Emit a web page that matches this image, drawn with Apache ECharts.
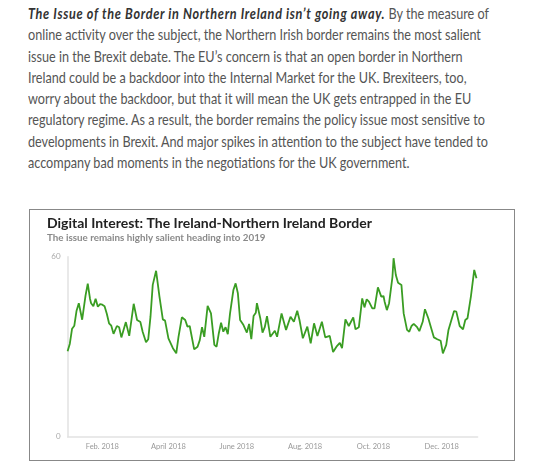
<!DOCTYPE html>
<html>
<head>
<meta charset="utf-8">
<script src="https://cdn.jsdelivr.net/npm/echarts@6/dist/echarts.min.js"></script>
<style>
  html, body { margin: 0; padding: 0; background: #fff; }
  body { width: 540px; height: 470px; position: relative; overflow: hidden; }
  #para {
    position: absolute; left: 28px; top: 3px; width: 600px;
    font-family: Lato, "Open Sans", sans-serif; font-size: 15px; line-height: 21.3px;
    color: #555; white-space: nowrap;
    transform: scaleX(0.842); transform-origin: 0 0;
  }
  #para b { font-style: italic; color: #333; letter-spacing: 0.8px; }
  #box {
    position: absolute; left: 29px; top: 209px; width: 484px; height: 250px;
    border: 1.5px solid #888;
  }
  #chart { position: absolute; left: 0; top: 0; width: 540px; height: 470px; }
</style>
</head>
<body>
<div id="para"><b>The Issue of the Border in Northern Ireland isn’t going away.</b> By the measure of<br>online activity over the subject, the Northern Irish border remains the most salient<br>issue in the Brexit debate. The EU’s concern is that an open border in Northern<br>Ireland could be a backdoor into the Internal Market for the UK. Brexiteers, too,<br>worry about the backdoor, but that it will mean the UK gets entrapped in the EU<br>regulatory regime. As a result, the border remains the policy issue most sensitive to<br>developments in Brexit. And major spikes in attention to the subject have tended to<br>accompany bad moments in the negotiations for the UK government.</div>
<div id="box"></div>
<div id="chart"></div>
<script>
// Day of year 2018 (0 = 1 Jan 2018)
const days = [0,2,4,6,8,10,13,16,18,20,21,23,25,27,29,31,33,35,37,39,41,44,46,48,52,55,59,62,65,67,70,72,74,76,79,82,85,87,90,94,97,99,102,105,107,109,113,116,118,120,122,125,128,131,133,135,137,139,141,143,145,148,150,152,154,157,160,162,164,166,168,169,172,174,176,178,181,185,187,191,195,199,202,205,207,210,214,217,220,223,227,230,234,237,240,243,245,248,251,255,257,260,263,265,267,269,272,274,277,280,282,283,285,287,290,291,293,295,298,300,303,305,307,309,312,314,317,319,322,324,327,330,333,335,338,340,345,347,350,353,355,357,360,363,365];
const values = [28.5,31,36,37,42,44.5,39,47,51,46,44.5,43.5,46,43.3,44.2,44,43.5,41,37.8,37,34.3,36.9,36.5,33.1,38.2,33.6,44.3,38.9,38.2,35,31.5,32.5,40,50.6,55.3,46.7,39.1,38.7,32.8,29.5,27.8,33.3,39.8,38.9,36.7,36.9,29.1,30,32.2,36.5,33.3,43.6,41.1,30.6,30,34.5,38,35,36.5,34.2,41.1,48.9,51.1,47.8,38.9,37.2,34.7,37.6,32.5,40.2,41.3,44.5,39.5,34.7,36.5,40.2,33.3,35.3,33.3,41.1,35.6,40,38.3,42,38.9,32.8,36.7,31.1,37.8,33.6,38.3,33.1,33.6,28.2,30,31.3,29.5,39.1,36.9,39.8,35.8,36.5,46.1,43.1,45.8,45,42.8,42.8,49.8,46.7,46.9,45,42.2,44.5,53.3,59.5,53.9,51.3,50.6,41.1,35.6,35,36.9,37.6,36.5,35.2,38.3,42.5,39.5,36.9,33.1,32.5,32,27.8,30.6,35.6,41.9,41.7,36.9,35.8,38.9,39.5,46.7,55.6,52.8];
const tickDays = [31, 90, 151, 212, 273, 334];
const tickLabels = ['Feb. 2018', 'April 2018', 'June 2018', 'Aug. 2018', 'Oct. 2018', 'Dec. 2018'];
const yTicks = [0, 60];

const chart = echarts.init(document.getElementById('chart'), null, { renderer: 'canvas' });
const seriesData = days.map((d, i) => [d, values[i]]);
chart.setOption({
  animation: false,
  title: [
    { text: 'Digital Interest: The Ireland-Northern Ireland Border', left: 47, top: 216, padding: 0,
      textStyle: { fontFamily: 'Lato', fontWeight: 'bold', fontSize: 14, color: '#222' } },
    { text: 'The issue remains highly salient heading into 2019', left: 47, top: 233, padding: 0,
      textStyle: { fontFamily: 'Lato', fontWeight: 'bold', fontSize: 9.8, color: '#8a8a8a' } }
  ],
  grid: { left: 67.6, right: 62.4, top: 256.7, bottom: 33.3, containLabel: false },
  xAxis: {
    type: 'value', min: 0, max: 366,
    axisLine: { show: true, lineStyle: { color: '#e2e2e2', width: 1.5 } },
    axisTick: { show: false },
    splitLine: { show: false },
    axisLabel: {
      customValues: tickDays,
      formatter: v => tickLabels[tickDays.indexOf(v)] || '',
      fontFamily: 'Lato', fontSize: 7.5, color: '#999', margin: 6
    }
  },
  yAxis: {
    type: 'value', min: 0, max: 60, interval: 60,
    axisLine: { show: true, lineStyle: { color: '#e2e2e2', width: 1.5 } },
    axisTick: { show: false },
    splitLine: { show: false },
    axisLabel: {
      customValues: yTicks,
      fontFamily: 'Lato', fontSize: 8, color: '#aaa', margin: 7
    }
  },
  series: [{
    type: 'line', data: seriesData, showSymbol: false, smooth: false,
    lineStyle: { color: '#3a9d23', width: 1.8 }
  }]
});
</script>
</body>
</html>
